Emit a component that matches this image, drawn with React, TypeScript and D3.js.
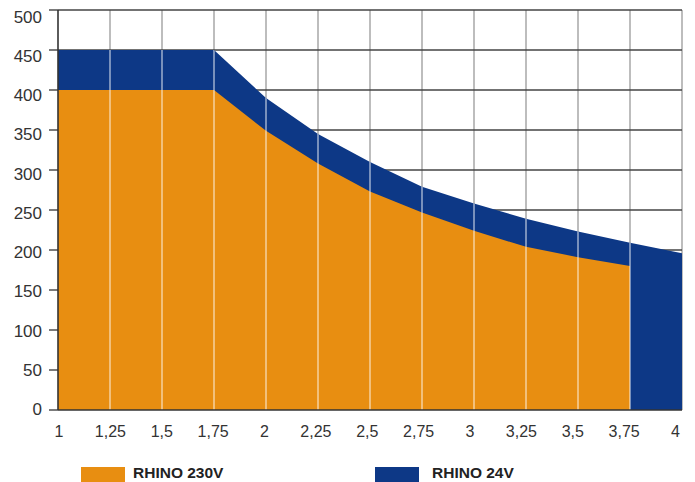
import React from "react";
import * as d3 from "d3";

const xValues = [1, 1.25, 1.5, 1.75, 2, 2.25, 2.5, 2.75, 3, 3.25, 3.5, 3.75, 4];
const rhino230 = [400, 400, 400, 400, 349, 308, 273, 247, 224, 204, 191, 180];
const rhino24 = [450, 450, 450, 450, 390, 345, 310, 279, 258, 239, 223, 209, 196];
const xTicks = [1, 1.25, 1.5, 1.75, 2, 2.25, 2.5, 2.75, 3, 3.25, 3.5, 3.75, 4];
const xTickLabels = ["1", "1,25", "1,5", "1,75", "2", "2,25", "2,5", "2,75", "3", "3,25", "3,5", "3,75", "4"];
const yTicks = [0, 50, 100, 150, 200, 250, 300, 350, 400, 450, 500];
const seriesNames = ["RHINO 230V", "RHINO 24V"];

const ORANGE = "#E88E11";
const BLUE = "#0D3886";

export default function App() {
  const W = 695, H = 482;
  const x = d3.scaleLinear().domain([1, 4]).range([58, 682]);
  const y = d3.scaleLinear().domain([0, 500]).range([410, 10]);
  const xLab = d3.scaleLinear().domain([1, 4]).range([59, 675.5]);
  const yLab = d3.scaleLinear().domain([0, 500]).range([415, 22.7]);

  const d24 = rhino24.map((v, i) => ({ x: xValues[i], v }));
  const d230 = rhino230.map((v, i) => ({ x: xValues[i], v }));
  const area = d3
    .area<{ x: number; v: number }>()
    .x((d) => x(d.x))
    .y0(y(0))
    .y1((d) => y(d.v))
    .curve(d3.curveLinear);
  const p24 = area(d24) || "";
  const p230 = area(d230) || "";
  const font = "'Liberation Sans', Arial, sans-serif";

  return (
    <svg width={W} height={H} style={{ position: "absolute", left: 0, top: 0 }}>
      <defs>
        <clipPath id="fillClip">
          <path d={p24} />
        </clipPath>
      </defs>
      <rect width={W} height={H} fill="#fff" />
      {xTicks.slice(1).map((t) => (
        <line key={"v" + t} x1={x(t)} x2={x(t)} y1={y(500)} y2={y(0)} stroke="#9a9a9a" strokeWidth={1.3} />
      ))}
      {yTicks.slice(1).map((t) => (
        <line key={"h" + t} x1={x(1)} x2={x(4)} y1={y(t)} y2={y(t)} stroke="#444" strokeWidth={1.3} />
      ))}
      <path d={p24} fill={BLUE} />
      <path d={p230} fill={ORANGE} />
      <g clipPath="url(#fillClip)">
        {xTicks.slice(1, -1).map((t) => (
          <line key={"w" + t} x1={x(t)} x2={x(t)} y1={y(500)} y2={y(0)} stroke="rgba(255,255,255,0.75)" strokeWidth={1.2} />
        ))}
      </g>
      <line x1={x(1)} x2={x(1)} y1={y(500)} y2={y(0)} stroke="#333" strokeWidth={1.6} />
      <line x1={x(1)} x2={x(4)} y1={y(0)} y2={y(0)} stroke="#333" strokeWidth={1.6} />
      {yTicks.map((t) => (
        <line key={"yt" + t} x1={49} x2={x(1)} y1={y(t)} y2={y(t)} stroke="#333" strokeWidth={1.3} />
      ))}
      {yTicks.map((t) => (
        <text key={"yl" + t} x={42} y={yLab(t)} textAnchor="end" fontFamily={font} fontSize={17} fill="#333">
          {t}
        </text>
      ))}
      {xTicks.map((t, i) => (
        <text key={"xl" + t} x={xLab(t)} y={437} textAnchor="middle" fontFamily={font} fontSize={16} fill="#333">
          {xTickLabels[i]}
        </text>
      ))}
      <rect x={81} y={467} width={44} height={15} fill={ORANGE} />
      <text x={133} y={478} fontFamily={font} fontSize={15.5} fontWeight="bold" fill="#222">
        {seriesNames[0]}
      </text>
      <rect x={375} y={467} width={44} height={15} fill={BLUE} />
      <text x={432} y={478} fontFamily={font} fontSize={15.5} fontWeight="bold" fill="#222">
        {seriesNames[1]}
      </text>
    </svg>
  );
}
